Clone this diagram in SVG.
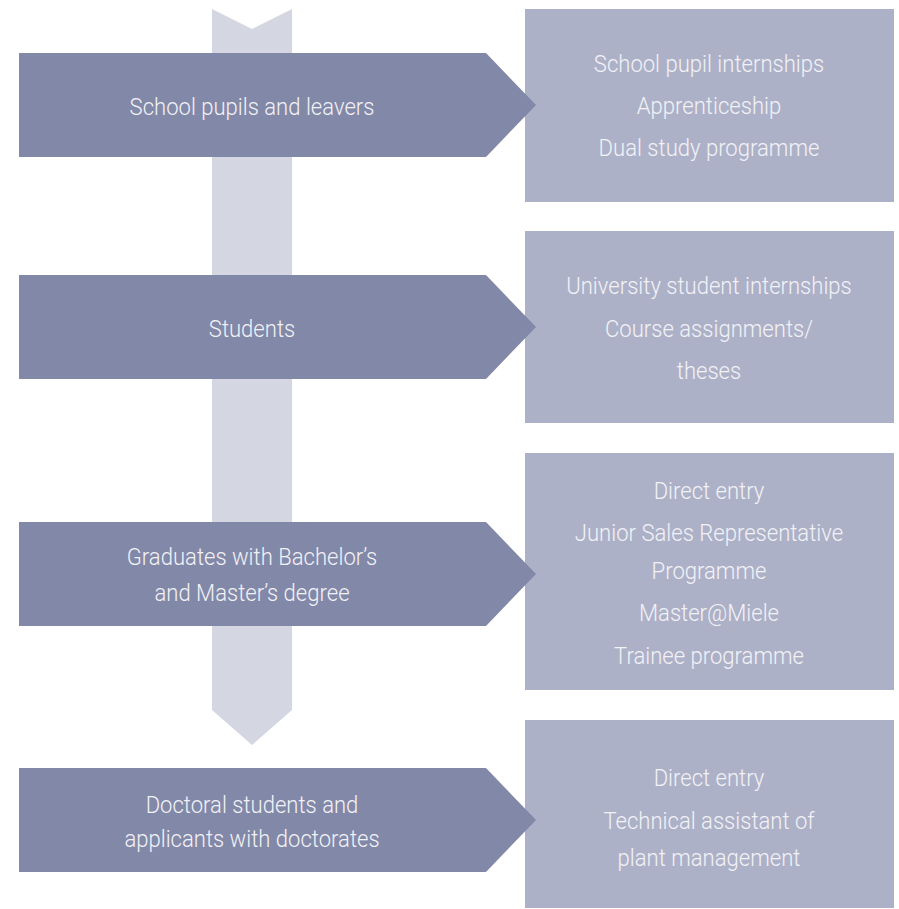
<svg xmlns="http://www.w3.org/2000/svg" width="899" height="909" viewBox="0 0 899 909">
<style>
.chev{fill:#8288a8}
.box{fill:#adb1c8}
.spine{fill:#d4d6e2}
text{font-family:Roboto,"Liberation Sans",sans-serif;font-weight:300;font-size:24px;fill:#f2f2f6;text-anchor:middle}
</style>
<g id="connectors">
<polygon class="spine" points="212,9 252,29 292,9 292,710 252,745 212,710"/>
</g>
<g id="box1"><rect class="box" x="525" y="9" width="369" height="193"/>
<text transform="matrix(0.92 0 0 1 709 72)">School pupil internships</text><text transform="matrix(0.92 0 0 1 709 114)">Apprenticeship</text><text transform="matrix(0.92 0 0 1 709 156)">Dual study programme</text></g>
<g id="box2"><rect class="box" x="525" y="231" width="369" height="192"/>
<text transform="matrix(0.92 0 0 1 709 294)">University student internships</text><text transform="matrix(0.92 0 0 1 709 337)">Course assignments/</text><text transform="matrix(0.92 0 0 1 709 379)">theses</text></g>
<g id="box3"><rect class="box" x="525" y="453" width="369" height="237"/>
<text transform="matrix(0.92 0 0 1 709 499)">Direct entry</text><text transform="matrix(0.92 0 0 1 709 541)">Junior Sales Representative</text><text transform="matrix(0.92 0 0 1 709 579)">Programme</text><text transform="matrix(0.92 0 0 1 709 621)">Master@Miele</text><text transform="matrix(0.92 0 0 1 709 664)">Trainee programme</text></g>
<g id="box4"><rect class="box" x="525" y="720" width="369" height="188"/>
<text transform="matrix(0.92 0 0 1 709 786)">Direct entry</text><text transform="matrix(0.92 0 0 1 709 829)">Technical assistant of</text><text transform="matrix(0.92 0 0 1 709 866)">plant management</text></g>
<g id="chev1"><polygon class="chev" points="19,53 486,53 536,105 486,157 19,157"/><text transform="matrix(0.92 0 0 1 252 115)">School pupils and leavers</text></g>
<g id="chev2"><polygon class="chev" points="19,275 486,275 536,327 486,379 19,379"/><text transform="matrix(0.92 0 0 1 252 337)">Students</text></g>
<g id="chev3"><polygon class="chev" points="19,522 486,522 536,574 486,626 19,626"/><text transform="matrix(0.92 0 0 1 252 565)">Graduates with Bachelor’s</text><text transform="matrix(0.92 0 0 1 252 601)">and Master’s degree</text></g>
<g id="chev4"><polygon class="chev" points="19,768 486,768 536,820 486,872 19,872"/><text transform="matrix(0.92 0 0 1 252 813)">Doctoral students and</text><text transform="matrix(0.92 0 0 1 252 847)">applicants with doctorates</text></g>
</svg>
